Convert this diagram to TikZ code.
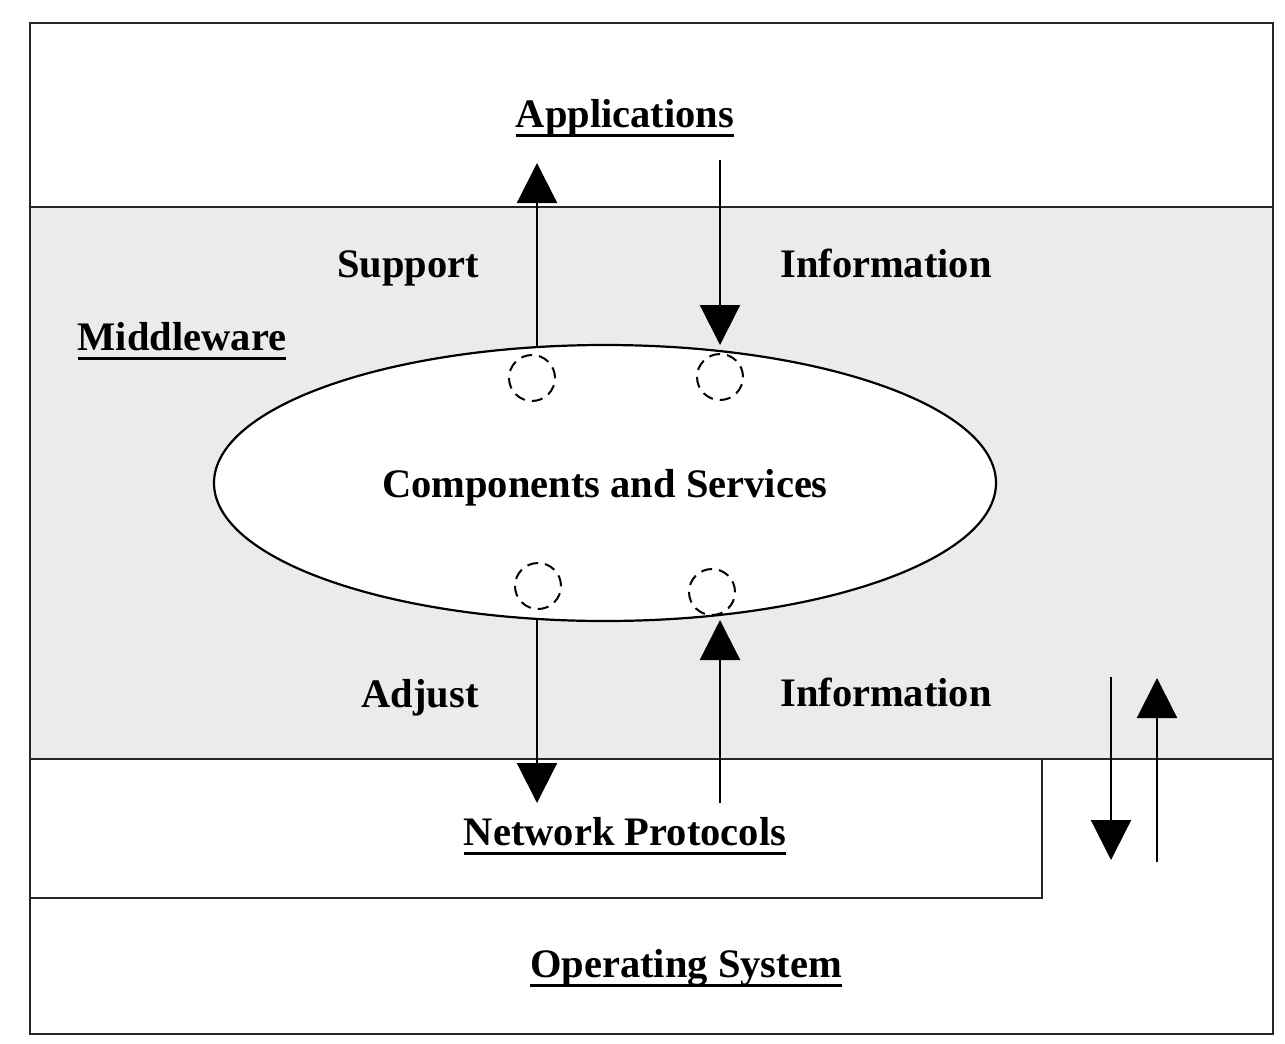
\documentclass[tikz,border=0pt]{standalone}
\usepackage{fontspec}
\setmainfont{Liberation Serif}
\usetikzlibrary{arrows.meta,shapes.geometric}
\definecolor{mwgray}{HTML}{EBEBEB}
\newcommand{\ulbox}[1]{\setbox0\hbox{#1}\rlap{\rule[-10pt]{\wd0}{3pt}}\box0}
\tikzset{
  lbl/.style={font=\fontsize{40.5}{44}\selectfont\bfseries, inner sep=0pt, anchor=base},
  frameline/.style={draw=black!85, line width=2.4pt},
  conn/.style={line width=2.2pt, -{Triangle[width=40pt,length=40pt]}},
  port/.style={circle, draw, dash pattern=on 11pt off 7pt, line width=2pt, minimum size=46pt, inner sep=0pt},
}
\begin{document}
\begin{tikzpicture}[x=1pt,y=-1pt]
\useasboundingbox (0,0) rectangle (1285,1044);
\fill[white] (0,0) rectangle (1285,1044);
% bands
\fill[mwgray] (30,207) rectangle (1273,759);
\draw[frameline] (30,23) rectangle (1273,1034);
\draw[frameline] (30,207) -- (1273,207);
\draw[frameline] (30,759) -- (1273,759);
\draw[frameline] (30,898) -- (1042,898) -- (1042,759);
% ellipse
\node[ellipse, draw, line width=2.2pt, fill=white, minimum width=782pt, minimum height=276pt, inner sep=0pt] (cs) at (605,483) {};
\node[lbl] (cstext) at (605,497) {Components and Services};
% ports
\node[port] (p1) at (532,378) {};
\node[port] (p2) at (720,377) {};
\node[port] (p3) at (538,586) {};
\node[port] (p4) at (712,592) {};
% labels
\node[lbl] (app) at (625,127) {\ulbox{Applications}};
\node[lbl] (sup) at (408,277) {Support};
\node[lbl] (inf1) at (886,277) {Information};
\node[lbl] (mw) at (182,350) {\ulbox{Middleware}};
\node[lbl] (adj) at (420,707) {Adjust};
\node[lbl] (inf2) at (886,706) {Information};
\node[lbl] (np) at (625,845) {\ulbox{Network Protocols}};
\node[lbl] (os) at (686,977) {\ulbox{Operating System}};
% coordinates for connector ends
\coordinate (supS) at (537,346);
\coordinate (supE) at (537,163);
\coordinate (inf1S) at (720,160);
\coordinate (inf1E) at (720,345);
\coordinate (adjS) at (537,620);
\coordinate (adjE) at (537,803);
\coordinate (inf2S) at (720,803);
\coordinate (inf2E) at (720,620);
\coordinate (dnS) at (1111,677);
\coordinate (dnE) at (1111,860);
\coordinate (upS) at (1157,862);
\coordinate (upE) at (1157,678);
\draw[conn] (supS) -- (supE);
\draw[conn] (inf1S) -- (inf1E);
\draw[conn] (adjS) -- (adjE);
\draw[conn] (inf2S) -- (inf2E);
\draw[conn] (dnS) -- (dnE);
\draw[conn] (upS) -- (upE);
\end{tikzpicture}
\end{document}
